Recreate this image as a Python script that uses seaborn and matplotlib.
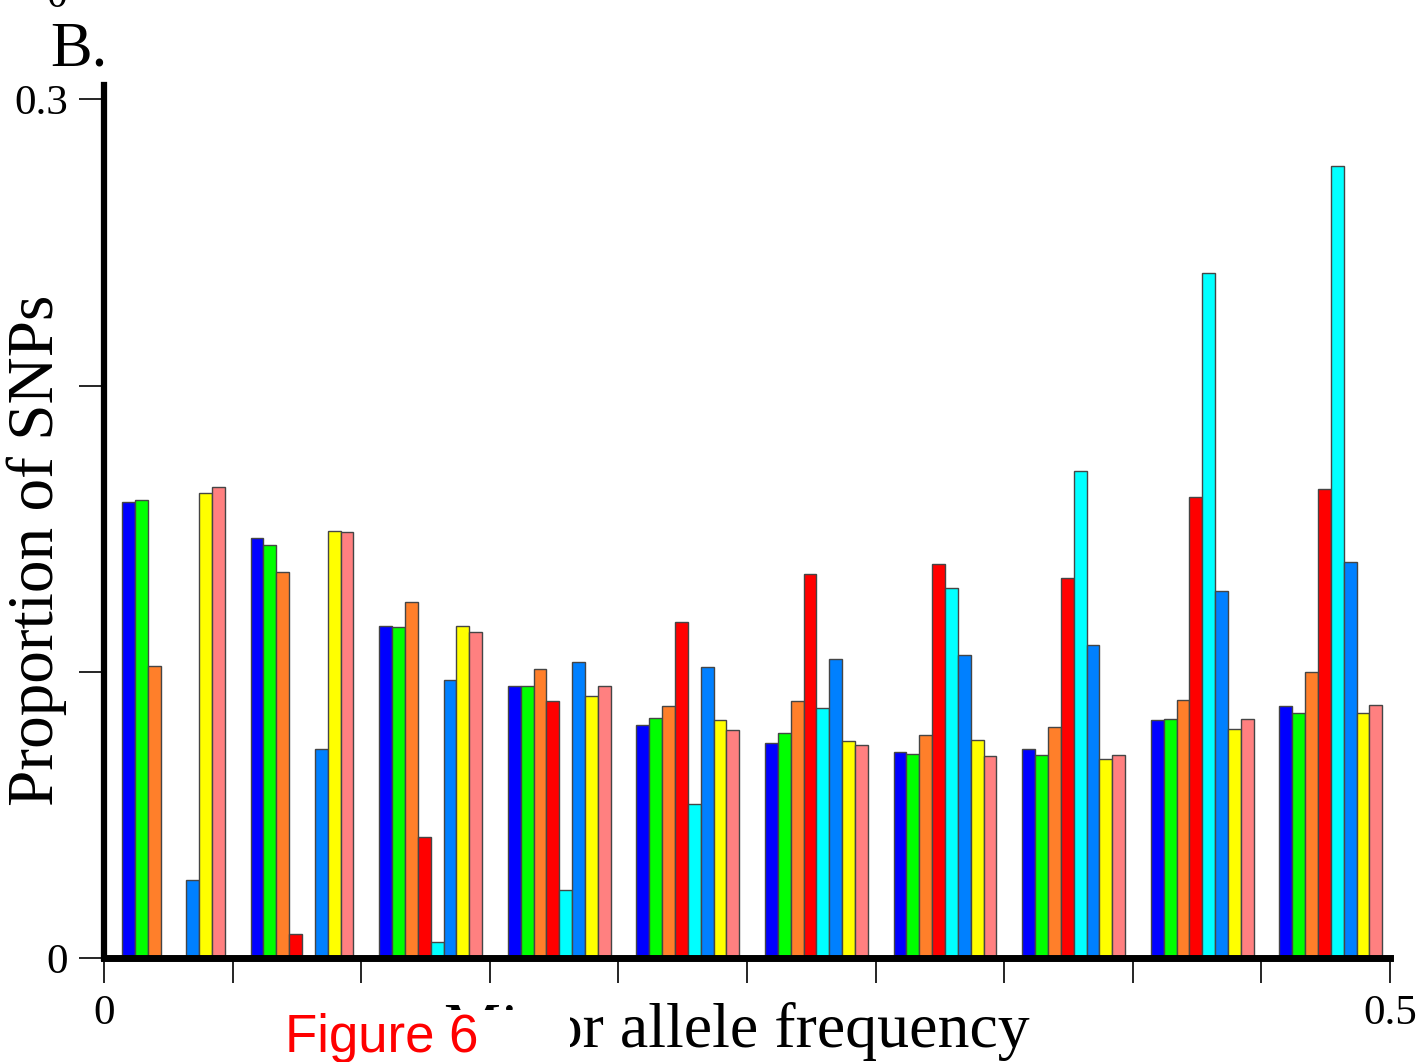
import matplotlib
matplotlib.use("Agg")
import matplotlib.pyplot as plt
import seaborn as sns
import pandas as pd
from matplotlib.patches import Rectangle

# ---- data ----
bins = ["b1", "b2", "b3", "b4", "b5", "b6", "b7", "b8", "b9", "b10"]
series_names = ["S1", "S2", "S3", "S4", "S5", "S6", "S7", "S8"]
s1 = [0.1594, 0.1469, 0.1160, 0.0949, 0.0815, 0.0752, 0.0720, 0.0730, 0.0832, 0.0881]
s2 = [0.1601, 0.1444, 0.1157, 0.0952, 0.0839, 0.0787, 0.0711, 0.0709, 0.0836, 0.0857]
s3 = [0.1021, 0.1347, 0.1245, 0.1009, 0.0881, 0.0899, 0.0778, 0.0807, 0.0902, 0.1000]
s4 = [0.0, 0.0085, 0.0422, 0.0898, 0.1175, 0.1343, 0.1378, 0.1326, 0.1612, 0.1640]
s5 = [0.0, 0.0, 0.0056, 0.0239, 0.0538, 0.0874, 0.1294, 0.1703, 0.2392, 0.2766]
s6 = [0.0273, 0.0731, 0.0971, 0.1035, 0.1017, 0.1045, 0.1058, 0.1092, 0.1283, 0.1385]
s7 = [0.1626, 0.1491, 0.1161, 0.0914, 0.0832, 0.0759, 0.0760, 0.0694, 0.0801, 0.0857]
s8 = [0.1647, 0.1487, 0.1140, 0.0950, 0.0797, 0.0745, 0.0704, 0.0710, 0.0836, 0.0885]
colors = ["#0000FF", "#00FF00", "#FF7F2A", "#FF0000", "#00FFFF", "#0080FF", "#FFFF00", "#FF8080"]
xtick_labels = ["0", "", "", "", "", "", "", "", "", "", "0.5"]
ytick_values = [0, 0.1, 0.2, 0.3]
ytick_labels = ["0", "", "", "0.3"]

rows = []
for name, vals in zip(series_names, [s1, s2, s3, s4, s5, s6, s7, s8]):
    for b, v in zip(bins, vals):
        rows.append({"bin": b, "series": name, "value": v})
df = pd.DataFrame(rows)

sns.set_theme(style="white")
plt.rcParams["font.family"] = ["Liberation Serif", "DejaVu Serif"]
plt.rcParams["text.color"] = "black"
plt.rcParams["axes.labelcolor"] = "black"
plt.rcParams["xtick.color"] = "black"
plt.rcParams["ytick.color"] = "black"

fig = plt.figure(figsize=(14.18, 10.62), dpi=100)
ax = fig.add_axes([104 / 1418, 1 - 958 / 1062, (1390 - 104) / 1418, (958 - 85) / 1062])

sns.barplot(data=df, x="bin", y="value", hue="series", order=bins,
            hue_order=series_names, palette=colors, width=0.8,
            edgecolor="#454545", linewidth=1.0, saturation=1, legend=False, ax=ax,
            errorbar=None)

off = 0.54
ax.set_xlim(-off, len(bins) - off)
ax.set_ylim(0, 0.305)
ax.set_xticks([i - off for i in range(len(bins) + 1)])
ax.set_xticklabels(xtick_labels, fontsize=31)
ax.set_yticks(ytick_values)
ax.set_yticklabels(ytick_labels, fontsize=31)

for s in ["top", "right"]:
    ax.spines[s].set_visible(False)
ax.spines["left"].set_linewidth(4.5)
ax.spines["bottom"].set_linewidth(5.0)
ax.spines["left"].set_color("black")
ax.spines["bottom"].set_color("black")
ax.tick_params(axis="both", direction="out", length=18, width=1.2, color="black",
               left=True, bottom=True, pad=8, labelcolor="black")

ax.set_xlabel("Minor allele frequency", fontsize=46, color="black")
ax.set_ylabel("Proportion of SNPs", fontsize=47, color="black")
ax.xaxis.set_label_coords(0.492, -0.050)
ax.yaxis.set_label_coords(-0.029, 0.467)

fig.text(50 / 1418, 1 - 66 / 1062, "B.", fontsize=45, ha="left", va="baseline")
fig.text(57 / 1418, 1 - 7 / 1062, "0", fontsize=30, ha="center", va="baseline")

fig.patches.append(Rectangle((280 / 1418, 0), (570 - 280) / 1418, (1062 - 1010) / 1062,
                             transform=fig.transFigure, facecolor="white",
                             edgecolor="none", zorder=5))
fig.text(285 / 1418, 1 - 1052 / 1062, "Figure 6", fontsize=38, color="#FF0000",
         family=["Liberation Sans", "DejaVu Sans"], ha="left", va="baseline", zorder=6)

fig.savefig("out.png", dpi=100, facecolor="white")
